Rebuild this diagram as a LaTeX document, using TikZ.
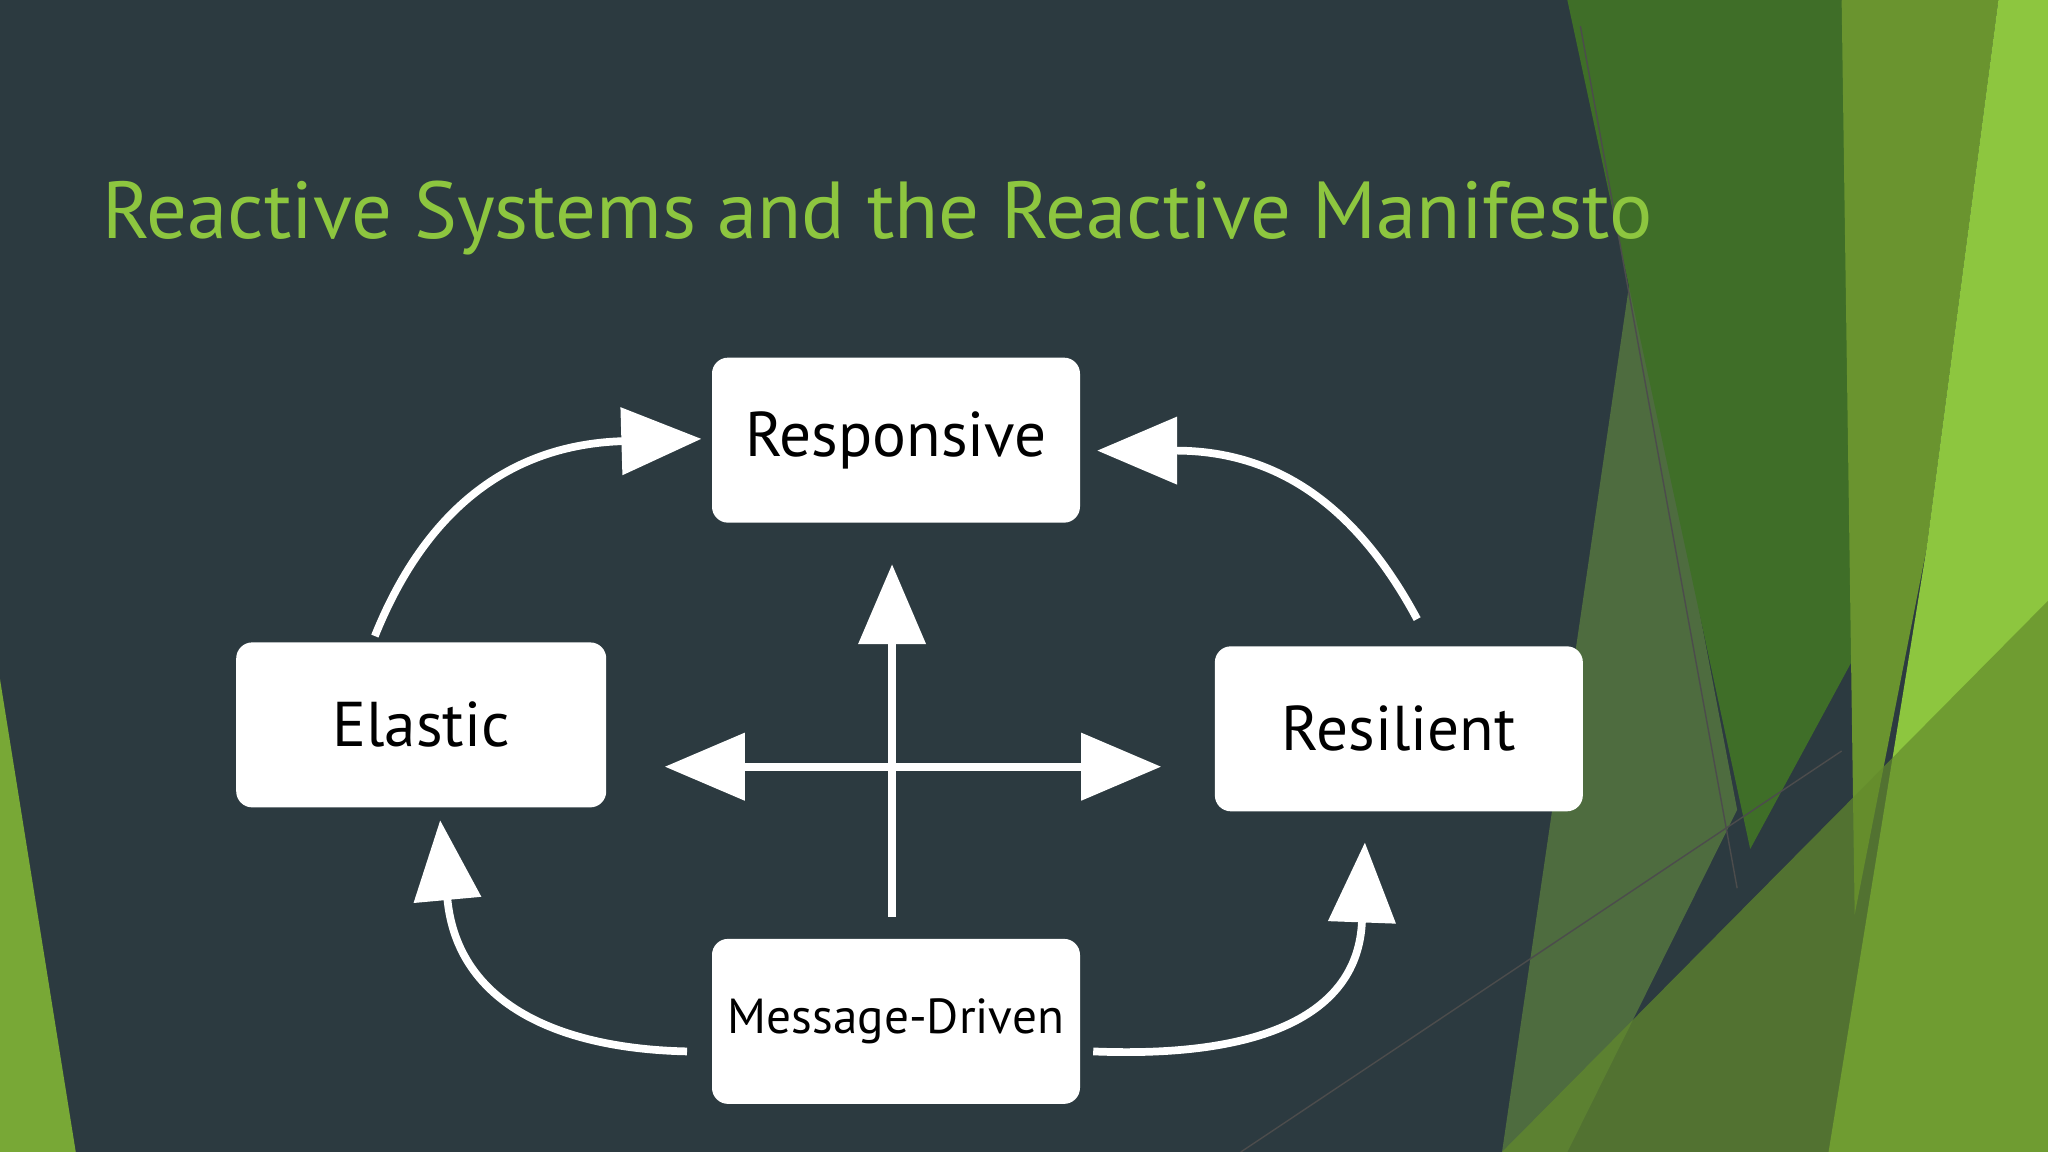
\documentclass[tikz,border=0pt]{standalone}
\usepackage{fontspec}
\setmainfont{PT Sans}
\usetikzlibrary{arrows.meta}
\definecolor{bg}{HTML}{2C3A40}
\definecolor{tgreen}{HTML}{8DC63F}
\definecolor{dgreen}{HTML}{3F6E28}
\begin{document}
\begin{tikzpicture}[x=0.01306cm,y=-0.01306cm,
  box/.style={fill=white,rounded corners=0.16cm,inner sep=0,text=black},
  con/.style={white,line width=2.2pt,-{Triangle[length=0.8cm,width=0.66cm]}},
  con2/.style={white,line width=2.2pt,{Triangle[length=0.8cm,width=0.66cm]}-{Triangle[length=0.8cm,width=0.66cm]}}]
\fill[bg] (0,0) rectangle (1568,882);
\useasboundingbox (0,0) rectangle (1568,882);
% decorative shapes
\fill[tgreen!60!bg,opacity=0.6] (1250,200)--(1330,620)--(1200,882)--(1150,882)--cycle;
\fill[dgreen] (1200,0)--(1410,0)--(1470,410)--(1340,650)--cycle;
\fill[tgreen!75!black] (1410,0)--(1530,0)--(1475,420)--(1420,700)--cycle;
\fill[tgreen] (1530,0)--(1568,0)--(1568,882)--(1400,882)--(1475,420)--cycle;
\fill[tgreen!70!black,opacity=0.7] (1150,882)--(1568,460)--(1568,882)--cycle;
\fill[tgreen!85!black] (0,520)--(58,882)--(0,882)--cycle;
\draw[black!70,line width=0.4pt] (1210,20)--(1330,680);
\draw[black!70,line width=0.4pt] (950,882)--(1410,575);
\node[text=tgreen,font=\fontsize{23}{27}\selectfont,anchor=west,inner sep=0] (title) at (78,167) {Reactive Systems and the Reactive Manifesto};
% boxes
\node[box,minimum width=3.68cm,minimum height=1.65cm,font=\fontsize{18}{22}\selectfont] (resp) at (686,337) {Responsive};
\node[box,minimum width=3.7cm,minimum height=1.65cm,font=\fontsize{18}{22}\selectfont] (elas) at (322.5,555) {Elastic};
\node[box,minimum width=3.68cm,minimum height=1.65cm,font=\fontsize{18}{22}\selectfont] (resi) at (1071,558) {Resilient};
\node[box,minimum width=3.68cm,minimum height=1.65cm,font=\fontsize{14}{17}\selectfont] (msg) at (686,782) {Message-Driven};
% connectors
\coordinate (e1) at (287,487); \coordinate (e2) at (537,336);
\draw[con] (e1) .. controls (330,380) and (400,340) .. (e2);
\coordinate (r1) at (1085,474); \coordinate (r2) at (840,345);
\draw[con] (r1) .. controls (1040,390) and (980,345) .. (r2);
\coordinate (m1) at (526,805); \coordinate (m2) at (337,628);
\draw[con] (m1) .. controls (430,803) and (350,770) .. (m2);
\coordinate (m3) at (837,805); \coordinate (m4) at (1045,645);
\draw[con] (m3) .. controls (960,810) and (1040,780) .. (m4);
\coordinate (v1) at (683,702); \coordinate (v2) at (683,432);
\draw[con] (v1) -- (v2);
\coordinate (h1) at (509,587); \coordinate (h2) at (889,587);
\draw[con2] (h1) -- (h2);
\end{tikzpicture}
\end{document}
